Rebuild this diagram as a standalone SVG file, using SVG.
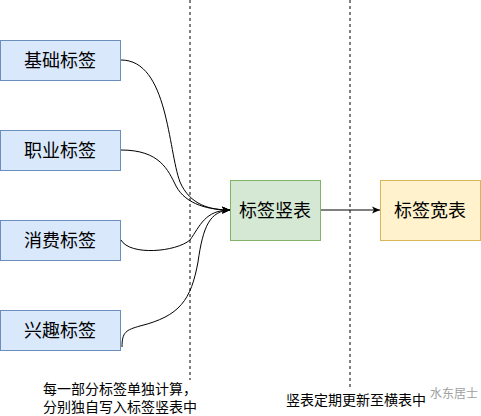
<svg xmlns="http://www.w3.org/2000/svg" width="481" height="416" viewBox="0 0 481 416">
<style>
.t{font-family:"Liberation Sans","Noto Sans CJK SC",sans-serif;fill:#000}
.box{font-size:18px}
.note{font-size:14px}
.blue{fill:#dae8fc;stroke:#6c8ebf;stroke-width:1}
.edge{fill:none;stroke:#000;stroke-width:1}
.dash{stroke:#000;stroke-width:1;stroke-dasharray:3 3}
</style>
<defs>
<marker id="ah" markerWidth="10" markerHeight="10" refX="9" refY="5" orient="auto" markerUnits="userSpaceOnUse">
<path d="M1,1.5 L9,5 L1,8.5 L3,5 Z" fill="#000"/>
</marker>
</defs>
<rect width="481" height="416" fill="#fff"/>
<line class="dash" x1="190" y1="0" x2="190" y2="380"/>
<line class="dash" x1="350" y1="0" x2="350" y2="388"/>
<g id="n1"><rect class="blue" x="0.5" y="40.5" width="120" height="40"/><text class="t box" x="60" y="67" text-anchor="middle">基础标签</text></g>
<g id="n2"><rect class="blue" x="0.5" y="130.5" width="120" height="40"/><text class="t box" x="60" y="157" text-anchor="middle">职业标签</text></g>
<g id="n3"><rect class="blue" x="0.5" y="220.5" width="120" height="40"/><text class="t box" x="60" y="247" text-anchor="middle">消费标签</text></g>
<g id="n4"><rect class="blue" x="0.5" y="310.5" width="120" height="40"/><text class="t box" x="60" y="337" text-anchor="middle">兴趣标签</text></g>
<g id="n5"><rect x="230.5" y="180.5" width="90" height="60" fill="#d5e8d4" stroke="#82b366"/><text class="t box" x="275" y="217" text-anchor="middle">标签竖表</text></g>
<g id="n6"><rect x="380.5" y="180.5" width="100" height="60" fill="#fff2cc" stroke="#d6b656"/><text class="t box" x="430" y="217" text-anchor="middle">标签宽表</text></g>
<g id="edges">
<path class="edge" marker-end="url(#ah)" d="M121,60 C168,60 168,150 180,182 C190,205 210,210 230,210"/>
<path class="edge" marker-end="url(#ah)" d="M121,150 C160,150 168,170 176,186 C186,205 210,210 230,210"/>
<path class="edge" marker-end="url(#ah)" d="M121,240 C130,256 176,252 190,240 C200,226 205,210 230,210"/>
<path class="edge" marker-end="url(#ah)" d="M122,347 C122,332 126,330 140,326 C180,316 191,300 198,262 C203,226 210,211 230,210"/>
<path class="edge" marker-end="url(#ah)" d="M321,210 L380,210"/>
</g>
<text class="t note" x="120" y="394" text-anchor="middle">每一部分标签单独计算，</text>
<text class="t note" x="120" y="412" text-anchor="middle">分别独自写入标签竖表中</text>
<text class="t note" x="356" y="405" text-anchor="middle">竖表定期更新至横表中</text>
<text class="t" x="430" y="398" font-size="12" style="fill:#a0a0a0">水东居士</text>
</svg>
